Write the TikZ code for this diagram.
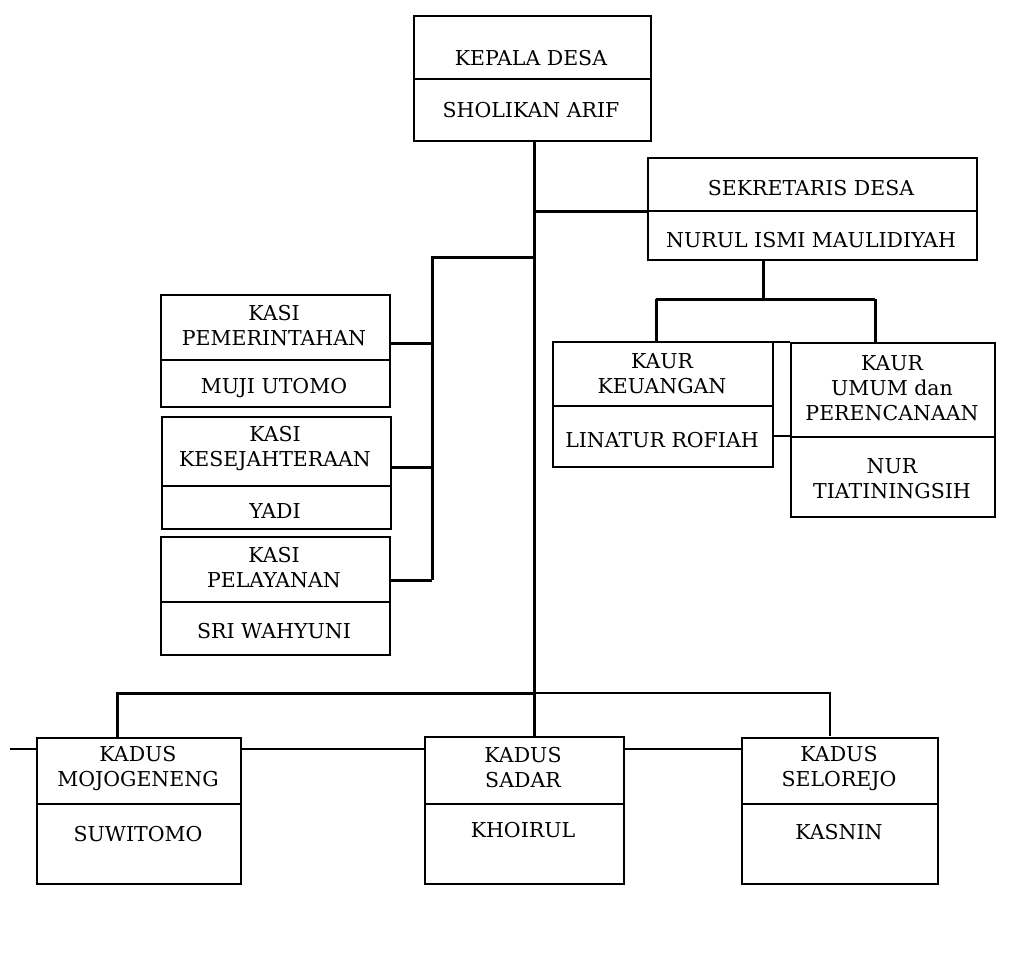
\documentclass[tikz,border=0pt]{standalone}
\usepackage{fontspec}
\setmainfont{DejaVu Serif}
\begin{document}
\begin{tikzpicture}[x=1pt,y=-1pt,
  box/.style={draw, line width=1.6pt, anchor=north west, inner sep=0pt},
  lbl/.style={font=\fontsize{20.5}{25}\selectfont, align=center, inner sep=0pt},
  thickln/.style={line width=3pt},
  thinln/.style={line width=1.6pt}]
\useasboundingbox (0,0) rectangle (1024,953);
\newcommand\obox[6]{%
  \node[box, minimum width=#4pt-#2pt, minimum height=#5pt-#3pt] (#1) at (#2,#3) {};
  \draw[thinln] (#2,#6) -- (#4,#6);}
% boxes
\obox{kd}{413}{15}{650}{140}{79}
\obox{sek}{647}{157}{976}{259}{211}
\obox{kk}{552}{341}{772}{466}{406}
\obox{ku}{790}{342}{994}{516}{437}
\obox{kp}{160}{294}{389}{406}{360}
\obox{ks}{161}{416}{390}{528}{486}
\obox{kpl}{160}{536}{389}{654}{602}
\obox{km}{36}{737}{240}{883}{804}
\obox{ksd}{424}{736}{623}{883}{804}
\obox{ksl}{741}{737}{937}{883}{804}
% labels
\node[lbl] (kd1) at (531,58) {KEPALA DESA};
\node[lbl] (kd2) at (531,110) {SHOLIKAN ARIF};
\node[lbl] (sek1) at (811,188) {SEKRETARIS DESA};
\node[lbl] (sek2) at (811,240) {NURUL ISMI MAULIDIYAH};
\node[lbl] (kk1) at (662,374) {KAUR\\KEUANGAN};
\node[lbl] (kk2) at (662,440) {LINATUR ROFIAH};
\node[lbl] (ku1) at (892,388) {KAUR\\UMUM dan\\PERENCANAAN};
\node[lbl] (ku2) at (892,479) {NUR\\TIATININGSIH};
\node[lbl] (kp1) at (274,326) {KASI\\PEMERINTAHAN};
\node[lbl] (kp2) at (274,388) {MUJI UTOMO};
\node[lbl] (ks1) at (275,449) {KASI\\KESEJAHTERAAN};
\node[lbl] (ks2) at (275,511) {YADI};
\node[lbl] (kpl1) at (274,568) {KASI\\PELAYANAN};
\node[lbl] (kpl2) at (274,631) {SRI WAHYUNI};
\node[lbl] (km1) at (138,769) {KADUS\\MOJOGENENG};
\node[lbl] (km2) at (138,834) {SUWITOMO};
\node[lbl] (ksd1) at (523,768) {KADUS\\SADAR};
\node[lbl] (ksd2) at (523,830) {KHOIRUL};
\node[lbl] (ksl1) at (839,769) {KADUS\\SELOREJO};
\node[lbl] (ksl2) at (839,832) {KASNIN};
% connector coordinates
\coordinate (mTop) at (534,140);
\coordinate (mSek) at (534,211);
\coordinate (mLeft) at (534,257);
\coordinate (mBot) at (534,693);
\coordinate (lBus) at (432,257);
\coordinate (sBus) at (763,299);
\coordinate (edgeL) at (10,749);
% main trunk
\draw[thickln] (mTop) -- (mBot) -- (mBot |- ksd.north);
\draw[thickln] (mSek) -- (sek.west |- mSek);
% kasi bus
\draw[thickln] (mLeft) -- (lBus) -- (lBus |- 0,580);
\draw[thickln] (kp.east |- 0,343) -- (lBus |- 0,343);
\draw[thickln] (ks.east |- 0,467) -- (lBus |- 0,467);
\draw[thickln] (kpl.east |- 0,580) -- (lBus |- 0,580);
% sekretaris to kaur
\draw[thickln] (sek.south -| sBus) -- (sBus);
\draw[thickln] (656,299) -- (875,299);
\draw[thickln] (656,299) -- (kk.north -| 656,0);
\draw[thickln] (875,299) -- (ku.north -| 875,0);
\draw[thinln] (kk.east |- 0,342) -- (ku.west |- 0,342);
\draw[thinln] (kk.east |- 0,436) -- (ku.west |- 0,436);
% kadus bus
\draw[thickln] (km.north -| 117,0) -- (117,693) -- (mBot);
\draw[line width=2pt] (mBot) -- (830,693) -- (830,736);
\draw[thinln] (edgeL) -- (km.west |- edgeL);
\draw[thinln] (km.east |- 0,749) -- (ksd.west |- 0,749);
\draw[thinln] (ksd.east |- 0,749) -- (ksl.west |- 0,749);
\end{tikzpicture}
\end{document}
